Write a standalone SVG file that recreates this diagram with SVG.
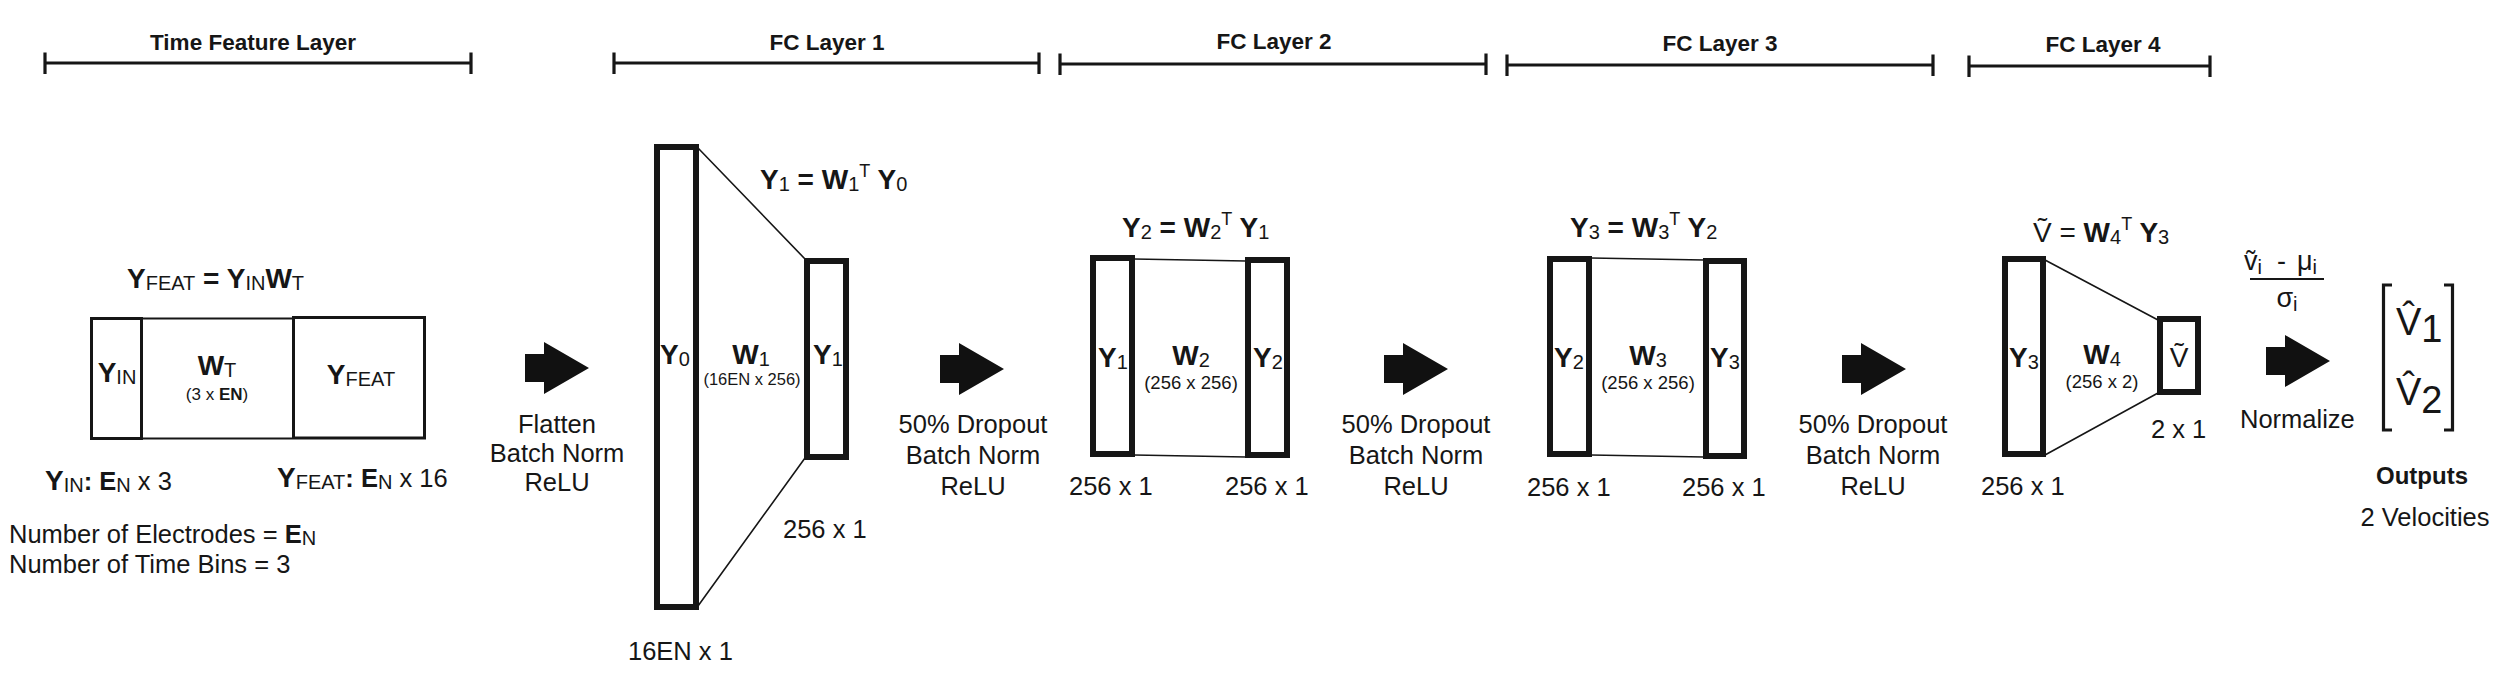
<svg xmlns="http://www.w3.org/2000/svg" xmlns:xlink="http://www.w3.org/1999/xlink" width="2519" height="675" viewBox="0 0 2519 675">
<style>
text{font-family:"Liberation Sans",Arial,Helvetica,sans-serif;fill:#161616}
.hd{font-size:22.5px;font-weight:bold}
.lb{font-size:25.5px}
.bg{font-size:28px;font-weight:bold}
.b{font-weight:bold}
.s{font-size:20px;font-weight:normal}
.sm{font-size:18px;font-weight:normal}
.dim{font-size:18.5px}
.box{fill:none;stroke:#161616;stroke-width:6}
.tbox{fill:none;stroke:#161616;stroke-width:3}
.thin{fill:none;stroke:#161616;stroke-width:1.6}
.br{fill:none;stroke:#161616;stroke-width:3.2}
.blk{fill:#111}
</style>
<defs>
<path id="blk" d="M0,-14 H19 V-26 L64,0 L19,26 V14 H0 Z"/>
</defs>
<rect width="2519" height="675" fill="#ffffff"/>

<g id="brackets">
<path class="br" d="M45,63 H471 M45,52.5 V74 M471,52.5 V74"/>
<path class="br" d="M614,63 H1039 M614,52.5 V74 M1039,52.5 V74"/>
<path class="br" d="M1060,64 H1486 M1060,53.5 V75 M1486,53.5 V75"/>
<path class="br" d="M1507,65 H1933 M1507,54.5 V76 M1933,54.5 V76"/>
<path class="br" d="M1969,66 H2210 M1969,55.5 V77 M2210,55.5 V77"/>
<text class="hd" x="253" y="50" text-anchor="middle">Time Feature Layer</text>
<text class="hd" x="827" y="50" text-anchor="middle">FC Layer 1</text>
<text class="hd" x="1274" y="49" text-anchor="middle">FC Layer 2</text>
<text class="hd" x="1720" y="51" text-anchor="middle">FC Layer 3</text>
<text class="hd" x="2103" y="52" text-anchor="middle">FC Layer 4</text>
</g>

<g id="time-feature">
<rect class="tbox" x="91.5" y="318.5" width="50" height="120"/>
<rect class="tbox" x="293.5" y="317.5" width="131" height="120.5"/>
<path class="thin" d="M143,318.5 H292 M143,438.5 H292" style="stroke-width:2"/>
<text class="bg" x="127" y="288">Y<tspan class="s" dy="2">FEAT</tspan><tspan dy="-2"> = Y</tspan><tspan class="s" dy="2">IN</tspan><tspan dy="-2">W</tspan><tspan class="s" dy="2">T</tspan></text>
<text class="bg" x="117" y="382" text-anchor="middle">Y<tspan class="s" dy="2">IN</tspan></text>
<text class="bg" x="217" y="375" text-anchor="middle">W<tspan class="s" dy="2">T</tspan></text>
<text x="217" y="400" text-anchor="middle" style="font-size:17px">(3 x <tspan class="b">EN</tspan>)</text>
<text class="bg" x="361" y="384" text-anchor="middle">Y<tspan class="s" dy="2">FEAT</tspan></text>
<text class="lb" x="45" y="490"><tspan class="bg">Y</tspan><tspan class="s" dy="2">IN</tspan><tspan class="b" dy="-2">: E</tspan><tspan class="s" dy="2">N</tspan><tspan dy="-2"> x 3</tspan></text>
<text class="lb" x="277" y="487"><tspan class="bg">Y</tspan><tspan class="s" dy="2">FEAT</tspan><tspan class="b" dy="-2">: E</tspan><tspan class="s" dy="2">N</tspan><tspan dy="-2"> x 16</tspan></text>
<text class="lb" x="9" y="543">Number of Electrodes = <tspan class="b">E</tspan><tspan class="s" dy="2">N</tspan></text>
<text class="lb" x="9" y="573">Number of Time Bins = 3</text>
</g>

<g id="fc1">
<rect class="box" x="657" y="147" width="39" height="460"/>
<rect class="box" x="807" y="261" width="39" height="196"/>
<text class="bg" x="760" y="189">Y<tspan class="s" dy="2">1</tspan><tspan dy="-2"> = W</tspan><tspan class="s" dy="2">1</tspan><tspan class="sm" dy="-14">T</tspan><tspan dy="12"> Y</tspan><tspan class="s" dy="2">0</tspan></text>
<text class="bg" x="675" y="364" text-anchor="middle">Y<tspan class="s" dy="2">0</tspan></text>
<text class="bg" x="751" y="364" text-anchor="middle">W<tspan class="s" dy="2">1</tspan></text>
<text x="752" y="385" text-anchor="middle" style="font-size:16.5px">(16EN x 256)</text>
<text class="bg" x="828" y="364" text-anchor="middle">Y<tspan class="s" dy="2">1</tspan></text>
<text class="lb" x="783" y="538">256 x 1</text>
<text class="lb" x="628" y="660">16EN x 1</text>
</g>

<g id="fc2">
<rect class="box" x="1093" y="258" width="39" height="196"/>
<rect class="box" x="1248" y="260" width="39" height="195"/>
<text class="bg" x="1122" y="237">Y<tspan class="s" dy="2">2</tspan><tspan dy="-2"> = W</tspan><tspan class="s" dy="2">2</tspan><tspan class="sm" dy="-14">T</tspan><tspan dy="12"> Y</tspan><tspan class="s" dy="2">1</tspan></text>
<text class="bg" x="1113" y="367" text-anchor="middle">Y<tspan class="s" dy="2">1</tspan></text>
<text class="bg" x="1191" y="365" text-anchor="middle">W<tspan class="s" dy="2">2</tspan></text>
<text class="dim" x="1191" y="389" text-anchor="middle">(256 x 256)</text>
<text class="bg" x="1268" y="367" text-anchor="middle">Y<tspan class="s" dy="2">2</tspan></text>
<text class="lb" x="1069" y="495">256 x 1</text>
<text class="lb" x="1225" y="495">256 x 1</text>
</g>

<g id="fc3">
<rect class="box" x="1550" y="259" width="39" height="195"/>
<rect class="box" x="1706" y="261" width="38" height="195"/>
<text class="bg" x="1570" y="237">Y<tspan class="s" dy="2">3</tspan><tspan dy="-2"> = W</tspan><tspan class="s" dy="2">3</tspan><tspan class="sm" dy="-14">T</tspan><tspan dy="12"> Y</tspan><tspan class="s" dy="2">2</tspan></text>
<text class="bg" x="1569" y="367" text-anchor="middle">Y<tspan class="s" dy="2">2</tspan></text>
<text class="bg" x="1648" y="365" text-anchor="middle">W<tspan class="s" dy="2">3</tspan></text>
<text class="dim" x="1648" y="389" text-anchor="middle">(256 x 256)</text>
<text class="bg" x="1725" y="367" text-anchor="middle">Y<tspan class="s" dy="2">3</tspan></text>
<text class="lb" x="1527" y="496">256 x 1</text>
<text class="lb" x="1682" y="496">256 x 1</text>
</g>

<g id="fc4">
<rect class="box" x="2005" y="259" width="38" height="195"/>
<rect class="box" x="2160" y="319" width="38" height="73"/>
<text class="bg" x="2033" y="242"><tspan style="font-weight:normal">Ṽ = </tspan>W<tspan class="s" dy="2">4</tspan><tspan class="sm" dy="-14">T</tspan><tspan dy="12"> Y</tspan><tspan class="s" dy="2">3</tspan></text>
<text class="bg" x="2024" y="367" text-anchor="middle">Y<tspan class="s" dy="2">3</tspan></text>
<text class="bg" x="2102" y="364" text-anchor="middle">W<tspan class="s" dy="2">4</tspan></text>
<text class="dim" x="2102" y="388" text-anchor="middle">(256 x 2)</text>
<text x="2179" y="367" text-anchor="middle" style="font-size:28px">Ṽ</text>
<text class="lb" x="2151" y="438">2 x 1</text>
<text class="lb" x="1981" y="495">256 x 1</text>
</g>

<g id="normalize">
<text class="lb" x="2244" y="270" style="font-size:27px">ṽ<tspan class="s" dy="4">i</tspan><tspan dy="-4" x="2277">-</tspan><tspan x="2297">μ</tspan><tspan class="s" dy="4">i</tspan></text>
<path d="M2250,279 H2324" stroke="#161616" stroke-width="2"/>
<text class="lb" x="2287" y="307" text-anchor="middle" style="font-size:27px">σ<tspan class="s" dy="4">i</tspan></text>
<text class="lb" x="2240" y="428">Normalize</text>
</g>

<g id="outputs">
<path class="br" d="M2392,285 H2383.5 V430 H2392 M2444,285 H2452.5 V430 H2444"/>
<text x="2396" y="335" style="font-size:38px">V̂<tspan dy="7">1</tspan></text>
<text x="2396" y="405" style="font-size:38px">V̂<tspan dy="8">2</tspan></text>
<text x="2422" y="484" text-anchor="middle" style="font-size:24px;font-weight:bold">Outputs</text>
<text class="lb" x="2425" y="526" text-anchor="middle">2 Velocities</text>
</g>

<g id="connectors">
<path class="thin" d="M698,148 L805,259 M698,606 L805,458"/>
<path class="thin" d="M1134,259 L1246,261 M1134,455 L1246,457"/>
<path class="thin" d="M1591,258 L1704,260 M1591,455 L1704,457"/>
<path class="thin" d="M2045,260 L2158,320 M2045,455 L2158,393"/>
<use href="#blk" class="blk" x="525" y="368"/>
<use href="#blk" class="blk" x="940" y="369"/>
<use href="#blk" class="blk" x="1384" y="369"/>
<use href="#blk" class="blk" x="1842" y="369"/>
<use href="#blk" class="blk" x="2266" y="361"/>
</g>

<g id="op-labels">
<text class="lb" text-anchor="middle"><tspan x="557" y="433">Flatten</tspan><tspan x="557" y="462">Batch Norm</tspan><tspan x="557" y="491">ReLU</tspan></text>
<text class="lb" text-anchor="middle"><tspan x="973" y="433">50% Dropout</tspan><tspan x="973" y="464">Batch Norm</tspan><tspan x="973" y="495">ReLU</tspan></text>
<text class="lb" text-anchor="middle"><tspan x="1416" y="433">50% Dropout</tspan><tspan x="1416" y="464">Batch Norm</tspan><tspan x="1416" y="495">ReLU</tspan></text>
<text class="lb" text-anchor="middle"><tspan x="1873" y="433">50% Dropout</tspan><tspan x="1873" y="464">Batch Norm</tspan><tspan x="1873" y="495">ReLU</tspan></text>
</g>
</svg>
